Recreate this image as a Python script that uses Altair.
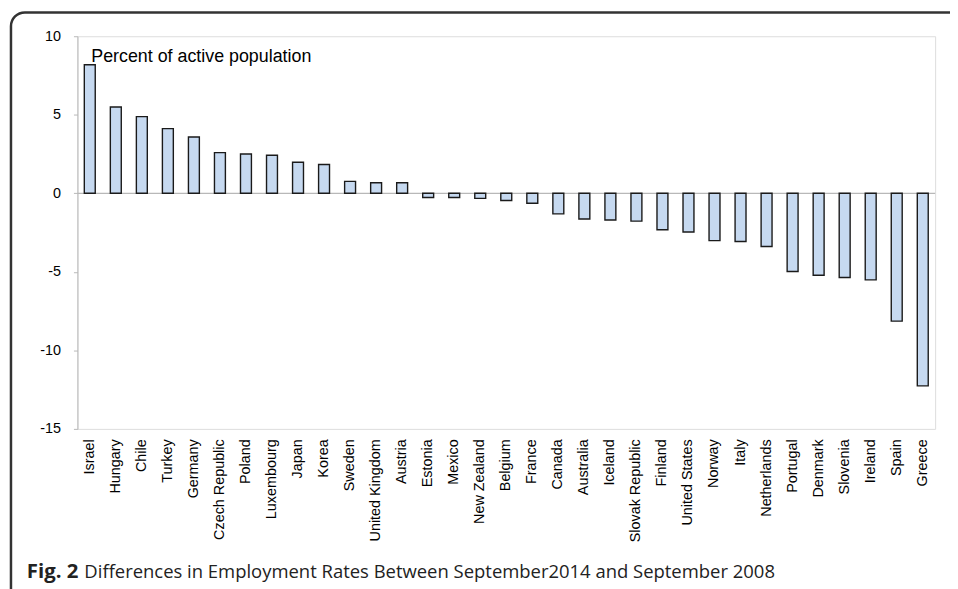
import altair as alt
import pandas as pd

countries = ["Israel", "Hungary", "Chile", "Turkey", "Germany", "Czech Republic", "Poland",
             "Luxembourg", "Japan", "Korea", "Sweden", "United Kingdom", "Austria", "Estonia",
             "Mexico", "New Zealand", "Belgium", "France", "Canada", "Australia", "Iceland",
             "Slovak Republic", "Finland", "United States", "Norway", "Italy", "Netherlands",
             "Portugal", "Denmark", "Slovenia", "Ireland", "Spain", "Greece"]
values = [8.18, 5.49, 4.88, 4.12, 3.58, 2.59, 2.50, 2.42, 1.98, 1.83, 0.76, 0.67, 0.67,
          -0.27, -0.27, -0.32, -0.46, -0.63, -1.31, -1.64, -1.70, -1.77, -2.32, -2.46,
          -3.01, -3.07, -3.39, -4.98, -5.22, -5.36, -5.51, -8.14, -12.26]
y_ticks = [10, 5, 0, -5, -10, -15]
unit_label = "Percent of active population"
caption_bold = "Fig. 2"
caption_rest = "Differences in Employment Rates Between September2014 and September 2008"

df = pd.DataFrame({"country": countries, "value": values})

x = alt.X("country:N", sort=countries, title=None,
          scale=alt.Scale(paddingInner=0.58, paddingOuter=0.265),
          axis=alt.Axis(orient="bottom", labelAngle=-90, domain=False, ticks=False,
                        labelPadding=10, labelFont="Liberation Sans", labelFontSize=14.5,
                        labelColor="black"))
y = alt.Y("value:Q", title=None,
          scale=alt.Scale(domain=[-15, 10], nice=False, zero=False),
          axis=alt.Axis(values=y_ticks, grid=False, domainColor="#b8b8b8", tickColor="#b8b8b8",
                        tickSize=4, labelPadding=13, labelFont="Liberation Sans",
                        labelFontSize=14.5, labelColor="black",
                        labelExpr="toString(datum.value)"))

bars = alt.Chart(df).mark_bar(fill="#c6d9f0", stroke="#1a1a1a", strokeWidth=1.4).encode(x=x, y=y)

zero = alt.Chart(pd.DataFrame({"z": [0]})).mark_rule(color="#b8b8b8", strokeWidth=1.2).encode(y="z:Q")

unit = alt.Chart(pd.DataFrame({"t": [unit_label]})).mark_text(
    align="left", baseline="alphabetic", font="Liberation Sans", fontSize=18, color="black"
).encode(x=alt.value(14), y=alt.value(26), text="t:N")

cap1 = alt.Chart(pd.DataFrame({"t": [caption_bold]})).mark_text(
    align="left", baseline="alphabetic", font="Open Sans", fontSize=20.5, fontWeight="bold",
    color="#222222"
).encode(x=alt.value(-51), y=alt.value(546), text="t:N")

cap2 = alt.Chart(pd.DataFrame({"t": [caption_rest]})).mark_text(
    align="left", baseline="alphabetic", font="Open Sans", fontSize=18.6, color="#222222"
).encode(x=alt.value(7), y=alt.value(546), text="t:N")

frame = alt.Chart(pd.DataFrame({"a": [0]})).mark_rect(
    fill="white", fillOpacity=0, stroke="#333333", strokeWidth=2.5, cornerRadius=14
).encode(x=alt.value(-67), x2=alt.value(1000), y=alt.value(-24), y2=alt.value(700))

chart = alt.layer(zero, bars, unit, cap1, cap2, frame).properties(
    width=865, height=396,
    autosize=alt.AutoSizeParams(type="none"),
    padding={"left": 70, "top": 26, "right": 15, "bottom": 159},
).configure_view(stroke="#c4c4c4", strokeWidth=1.5).configure(background="white")

chart.save("out.html", embed_options={"renderer": "svg", "actions": False})
